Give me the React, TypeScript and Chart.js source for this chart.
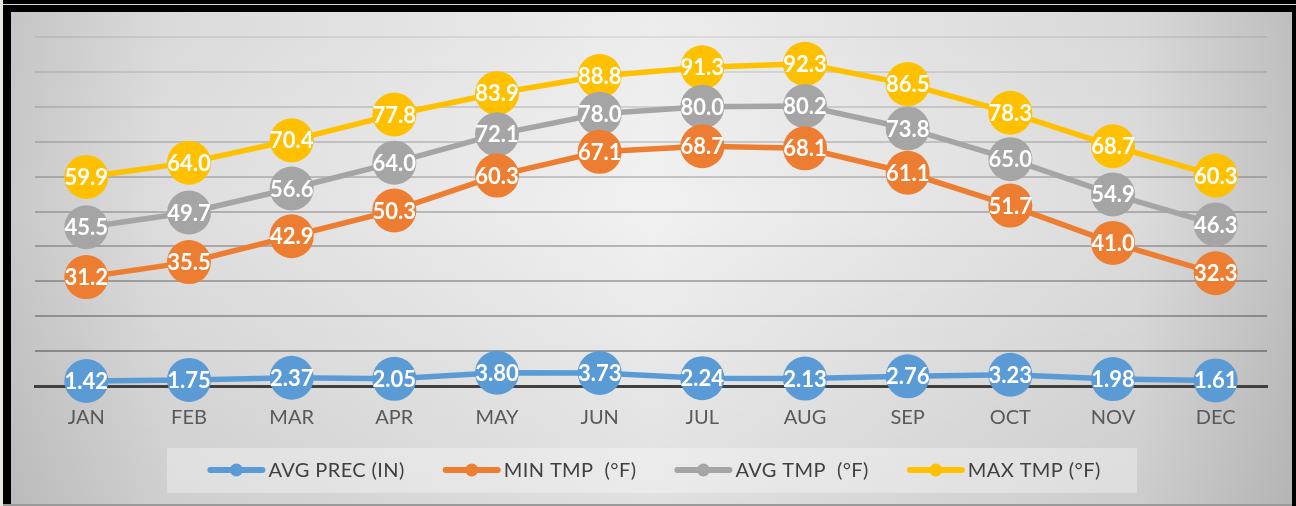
import React, { useEffect, useRef } from "react";
import { Chart, registerables } from "chart.js";

Chart.register(...registerables);

const months = ["JAN", "FEB", "MAR", "APR", "MAY", "JUN", "JUL", "AUG", "SEP", "OCT", "NOV", "DEC"];
const avgPrec = [1.42, 1.75, 2.37, 2.05, 3.8, 3.73, 2.24, 2.13, 2.76, 3.23, 1.98, 1.61];
const minTmp = [31.2, 35.5, 42.9, 50.3, 60.3, 67.1, 68.7, 68.1, 61.1, 51.7, 41.0, 32.3];
const avgTmp = [45.5, 49.7, 56.6, 64.0, 72.1, 78.0, 80.0, 80.2, 73.8, 65.0, 54.9, 46.3];
const maxTmp = [59.9, 64.0, 70.4, 77.8, 83.9, 88.8, 91.3, 92.3, 86.5, 78.3, 68.7, 60.3];
const seriesNames = ["AVG PREC (IN)", "MIN TMP  (°F)", "AVG TMP  (°F)", "MAX TMP (°F)"];
const labelDecimals = [2, 1, 1, 1];
const yMin = 0;
const yMax = 100;
const yStep = 10;

const seriesColors = ["#5B9BD5", "#ED7D31", "#A5A5A5", "#FFC000"];
const FONT = "Lato, 'Open Sans', sans-serif";

const backgroundPlugin = {
  id: "panelBackground",
  beforeDraw(chart: any) {
    const { ctx, width, height } = chart;
    ctx.save();
    const g = ctx.createLinearGradient(0, 0, width, 0);
    g.addColorStop(0, "#c9c9c9");
    g.addColorStop(0.12, "#dedede");
    g.addColorStop(0.5, "#f1f1f1");
    g.addColorStop(0.88, "#dcdcdc");
    g.addColorStop(1, "#c2c2c2");
    ctx.fillStyle = g;
    ctx.fillRect(0, 0, width, height);
    const v = ctx.createLinearGradient(0, 0, 0, height);
    v.addColorStop(0, "rgba(0,0,0,0.02)");
    v.addColorStop(0.4, "rgba(0,0,0,0)");
    v.addColorStop(1, "rgba(0,0,0,0.07)");
    ctx.fillStyle = v;
    ctx.fillRect(0, 0, width, height);
    ctx.restore();
  },
};

const dataLabelPlugin = {
  id: "pointValueLabels",
  afterDatasetsDraw(chart: any) {
    const { ctx } = chart;
    ctx.save();
    ctx.font = `bold 22px ${FONT}`;
    ctx.fillStyle = "#ffffff";
    ctx.textAlign = "center";
    ctx.textBaseline = "middle";
    for (let d = chart.data.datasets.length - 1; d >= 0; d--) {
      const meta = chart.getDatasetMeta(d);
      const ds = chart.data.datasets[d];
      meta.data.forEach((el: any, i: number) => {
        const val = ds.data[i] as number;
        ctx.fillText(val.toFixed(labelDecimals[d]), el.x, el.y + 1);
      });
    }
    ctx.restore();
  },
};

const legendPlugin = {
  id: "customLegend",
  afterDraw(chart: any) {
    const { ctx } = chart;
    const boxLeft = 156;
    const boxRight = 1126;
    const boxTop = 436;
    const boxBottom = 481;
    const cy = 458;
    ctx.save();
    ctx.fillStyle = "rgba(255,255,255,0.32)";
    ctx.fillRect(boxLeft, boxTop, boxRight - boxLeft, boxBottom - boxTop);
    ctx.font = `20px ${FONT}`;
    try {
      (ctx as any).letterSpacing = "0.4px";
    } catch (e) {}
    const sample = 58;
    const gapText = 3;
    const gapItem = 38;
    const widths = chart.data.datasets.map((ds: any) => ctx.measureText(ds.label).width);
    const total =
      widths.reduce((a: number, w: number) => a + w + sample + gapText, 0) + gapItem * (widths.length - 1);
    let x = 643 - total / 2;
    chart.data.datasets.forEach((ds: any, i: number) => {
      ctx.strokeStyle = ds.borderColor;
      ctx.lineWidth = 6;
      ctx.lineCap = "round";
      ctx.beginPath();
      ctx.moveTo(x + 3, cy);
      ctx.lineTo(x + sample - 3, cy);
      ctx.stroke();
      ctx.fillStyle = ds.borderColor;
      ctx.beginPath();
      ctx.arc(x + sample / 2, cy, 6.5, 0, Math.PI * 2);
      ctx.fill();
      ctx.fillStyle = "#404040";
      ctx.textAlign = "left";
      ctx.textBaseline = "middle";
      ctx.fillText(ds.label, x + sample + gapText, cy + 1);
      x += sample + gapText + widths[i] + gapItem;
    });
    ctx.restore();
  },
};

export default function App() {
  const canvasRef = useRef<HTMLCanvasElement | null>(null);

  useEffect(() => {
    document.body.style.margin = "0";
    const canvas = canvasRef.current;
    if (!canvas) return;
    const seriesData = [avgPrec, minTmp, avgTmp, maxTmp];
    const chart = new Chart(canvas, {
      type: "line",
      data: {
        labels: months,
        datasets: seriesData.map((data, i) => ({
          label: seriesNames[i],
          data,
          borderColor: seriesColors[i],
          backgroundColor: seriesColors[i],
          pointBackgroundColor: seriesColors[i],
          pointBorderWidth: 0,
          pointRadius: 22,
          pointHoverRadius: 22,
          borderWidth: 5.5,
          tension: 0,
          clip: false as any,
        })),
      },
      options: {
        animation: false,
        responsive: true,
        maintainAspectRatio: false,
        events: [],
        layout: { padding: { left: 24, right: 25, top: 25, bottom: 0 } },
        plugins: {
          legend: { display: false },
          tooltip: { enabled: false },
          title: { display: false },
        },
        scales: {
          x: {
            offset: true,
            grid: { display: false, drawTicks: false },
            border: { display: true, color: "#404040", width: 3 },
            ticks: {
              color: "#595959",
              font: { family: FONT, size: 20 },
              padding: 20,
            },
            afterFit: (s: any) => {
              s.height = 118;
            },
          },
          y: {
            min: yMin,
            max: yMax,
            ticks: { display: false, stepSize: yStep },
            border: { display: false },
            grid: {
              drawTicks: false,
              lineWidth: 2,
              color: (c: any) => {
                const v = c.tick ? c.tick.value : 0;
                if (v === 0) return "rgba(0,0,0,0)";
                const a = 0.07 + ((100 - v) / 100) * 0.28;
                return `rgba(0,0,0,${a.toFixed(3)})`;
              },
            },
            afterFit: (s: any) => {
              s.width = 0;
            },
          },
        },
      },
      plugins: [backgroundPlugin, dataLabelPlugin, legendPlugin],
    });
    return () => chart.destroy();
  }, []);

  return (
    <div style={{ position: "relative", width: 1296, height: 506, background: "#000", overflow: "hidden" }}>
      <div style={{ position: "absolute", left: 0, top: 0, width: 3, height: 506, background: "#e4e8e0" }} />
      <div style={{ position: "absolute", left: 3, top: 4, width: 1293, height: 1, background: "#d8d8d8" }} />
      <div style={{ position: "absolute", left: 3, top: 504, width: 1289, height: 2, background: "#9a9a9a" }} />
      <div style={{ position: "absolute", left: 11, top: 12, width: 1281, height: 492 }}>
        <canvas ref={canvasRef} />
      </div>
    </div>
  );
}
